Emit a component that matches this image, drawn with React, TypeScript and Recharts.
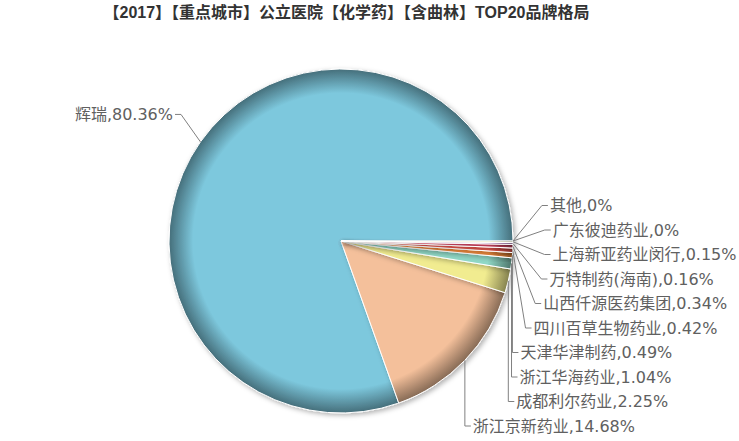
import React from "react";
import { PieChart, Pie, Cell } from "recharts";

const TITLE = "【2017】【重点城市】公立医院【化学药】【含曲林】TOP20品牌格局";

const brands = [
  "辉瑞",
  "浙江京新药业",
  "成都利尔药业",
  "浙江华海药业",
  "天津华津制药",
  "四川百草生物药业",
  "山西仟源医药集团",
  "万特制药(海南)",
  "上海新亚药业闵行",
  "广东彼迪药业",
  "其他",
];
const shares = [80.36, 14.68, 2.25, 1.04, 0.49, 0.42, 0.34, 0.16, 0.15, 0, 0];
const colors = [
  "#7dc8dd",
  "#f4c09b",
  "#f1ec90",
  "#90d8c6",
  "#f08a3c",
  "#e0544c",
  "#c8435e",
  "#8e4f9c",
  "#e4e2ae",
  "#b7d37a",
  "#9aa9d6",
];

const W = 739;
const H = 441;
const CX = 341;
const CY = 241;
const R_OUT = 172;
const LABEL_DIST = 32;
const LINE_H = 24.5;

const data = brands.map((name, i) => ({ name, value: shares[i] }));

// highcharts-like label distribution: natural y on a circle, then push apart
function layoutLabels() {
  const total = shares.reduce((a, b) => a + b, 0);
  const R = R_OUT + LABEL_DIST;
  let acc = 0;
  const items = shares.map((v, i) => {
    const a = (v / total) * 360;
    const mid = acc + a / 2;
    acc += a;
    const rad = (mid * Math.PI) / 180;
    return {
      i,
      right: Math.cos(rad) >= -1e-9,
      y: CY - Math.sin(rad) * R - 9,
    };
  });
  const result: { right: boolean; y: number }[] = [];
  [true, false].forEach((side) => {
    const list = items
      .filter((it) => it.right === side)
      .sort((a, b) => a.y - b.y || b.i - a.i);
    const ys = list.map((it) => it.y);
    for (let k = 0; k < ys.length; k++) {
      if (k === 0) ys[k] = Math.max(ys[k], 45);
      else ys[k] = Math.max(ys[k], ys[k - 1] + LINE_H);
    }
    const bottom = H - 15;
    if (ys.length && ys[ys.length - 1] > bottom) {
      ys[ys.length - 1] = bottom;
      for (let k = ys.length - 2; k >= 0; k--) {
        ys[k] = Math.min(ys[k], ys[k + 1] - LINE_H);
      }
    }
    list.forEach((it, k) => {
      result[it.i] = { right: side, y: ys[k] };
    });
  });
  return result;
}

const labelPos = layoutLabels();

const renderLabel = (props: any) => {
  const { cx, cy, midAngle, outerRadius, index } = props;
  const pos = labelPos[index];
  const rad = (-midAngle * Math.PI) / 180;
  const ex = cx + outerRadius * Math.cos(rad);
  const ey = cy + outerRadius * Math.sin(rad);
  const R = outerRadius + LABEL_DIST;
  const dy = pos.y - cy;
  const reach = Math.abs(dy) < R ? Math.sqrt(R * R - dy * dy) : 0;
  const bx = pos.right ? Math.max(cx + reach, ex) : Math.min(cx - reach, ex);
  const hx = bx + (pos.right ? 6 : -6);
  return (
    <g key={`lbl-${index}`}>
      <path
        d={`M${ex},${ey}L${bx},${pos.y}L${hx},${pos.y}`}
        stroke="#808080"
        strokeWidth={1}
        fill="none"
      />
      <text
        x={hx + (pos.right ? 2 : -2)}
        y={pos.y}
        textAnchor={pos.right ? "start" : "end"}
        dominantBaseline="central"
        fill="#606060"
        fontSize={16}
        fontFamily='"DejaVu Sans", "Noto Sans CJK SC", sans-serif'
      >
        {`${brands[index]},${shares[index]}%`}
      </text>
    </g>
  );
};

function darken(hex: string, f: number) {
  const n = parseInt(hex.slice(1), 16);
  const r = Math.round(((n >> 16) & 255) * f);
  const g = Math.round(((n >> 8) & 255) * f);
  const b = Math.round((n & 255) * f);
  return `rgb(${r},${g},${b})`;
}

export default function App() {
  return (
    <div
      style={{
        position: "absolute",
        left: 0,
        top: 0,
        width: W,
        height: H,
        background: "#fff",
      }}
    >
      <div
        style={{
          position: "absolute",
          left: 0,
          top: 2,
          width: 693,
          textAlign: "center",
          fontFamily: '"Liberation Sans", "Noto Sans CJK SC", sans-serif',
          fontWeight: "bold",
          fontSize: 16,
          color: "#333",
          lineHeight: "22px",
        }}
      >
        {TITLE}
      </div>
      <PieChart
        width={W}
        height={H}
        margin={{ top: 0, right: 0, bottom: 0, left: 0 }}
        style={{ position: "absolute", left: 0, top: 0 }}
      >
        <defs>
          <filter id="pieShadow" x="-20%" y="-20%" width="140%" height="140%">
            <feDropShadow dx="2" dy="2" stdDeviation="2.5" floodColor="#000" floodOpacity="0.3" />
          </filter>
          {colors.map((c, i) => (
            <radialGradient
              key={c}
              id={`grad-${i}`}
              gradientUnits="userSpaceOnUse"
              cx={CX}
              cy={CY}
              r={R_OUT}
            >
              <stop offset="0" stopColor={c} />
              <stop offset="0.86" stopColor={c} />
              <stop offset="1" stopColor={darken(c, 0.55)} />
            </radialGradient>
          ))}
        </defs>
        <Pie
          data={data}
          dataKey="value"
          nameKey="name"
          cx={CX}
          cy={CY}
          outerRadius={R_OUT}
          startAngle={0}
          endAngle={360}
          stroke="#ffffff"
          strokeWidth={1}
          label={renderLabel}
          labelLine={false}
          isAnimationActive={false}
          style={{ filter: "url(#pieShadow)" }}
        >
          {data.map((d, i) => (
            <Cell key={d.name} fill={`url(#grad-${i})`} />
          ))}
        </Pie>
      </PieChart>
    </div>
  );
}
